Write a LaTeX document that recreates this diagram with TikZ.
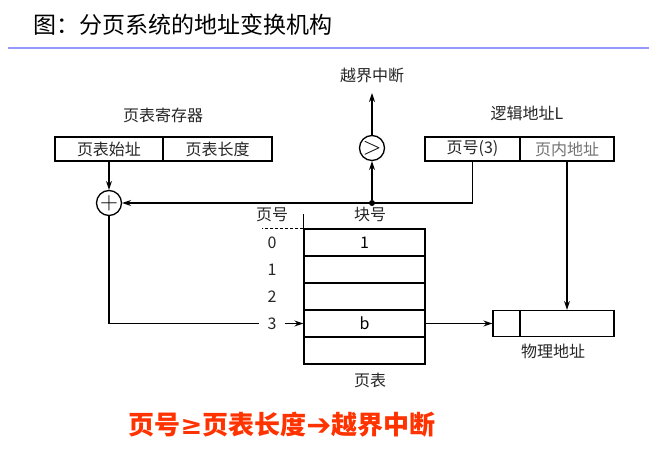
\documentclass[tikz,border=0pt]{standalone}
\usepackage{fontspec}
\setmainfont{Noto Sans CJK SC}
\newfontfamily\djv{DejaVu Sans}
\usetikzlibrary{arrows.meta}
\definecolor{rulecol}{RGB}{150,150,255}
\definecolor{redtxt}{RGB}{255,51,0}
\begin{document}
\begin{tikzpicture}[x=1pt,y=-1pt,
  ln/.style={line width=1.3pt, black},
  arr/.style={ln, -{Stealth[length=9pt,width=6pt]}},
  lbl/.style={font=\fontsize{16}{16}\selectfont, text=black!85, inner sep=0pt},
  cell/.style={draw, ln, inner sep=0pt, minimum height=24pt, font=\fontsize{16}{16}\selectfont, text=black!85},
  prow/.style={draw, ln, inner sep=0pt, minimum width=121pt, minimum height=27pt, font=\fontsize{16}{16}\selectfont},
  opcirc/.style={circle, draw, ln, inner sep=0pt, minimum size=25pt, font=\fontsize{24}{24}\selectfont},
  titlefont/.style={font=\fontsize{23}{23}\selectfont, inner sep=0pt},
  redfont/.style={font=\fontsize{26}{26}\selectfont\bfseries, text=redtxt, inner sep=0pt}
]
\useasboundingbox (0,0) rectangle (649,450);
\fill[white] (0,0) rectangle (649,450);

% title and rule
\node[titlefont] (title) at (183,25) {图：分页系统的地址变换机构};
\draw[rulecol, line width=2pt] (8,48) -- (649,48);

% page-table register
\node[lbl] (regl) at (163,115) {页表寄存器};
\node[cell, minimum width=108pt] (rs) at (109,149) {页表始址};
\node[cell, minimum width=109pt] (rl) at (217.5,149) {页表长度};

% logical address
\node[lbl] (logl) at (527,113) {逻辑地址L};
\node[cell, minimum width=95pt] (lp) at (472.5,149) {页号(3)};
\node[cell, minimum width=94pt, text=black!55] (lo) at (567,149) {页内地址};

% comparator
\node[lbl] (intr) at (372,75) {越界中断};
\coordinate (itop) at (372,93);
\node[opcirc] (cmp) at (372,148) {\raisebox{0.5pt}{$>$}};
\node[circle, fill=black, inner sep=0pt, minimum size=6pt] (dot) at (372,203) {};
\draw[arr] (cmp.north) -- (itop);
\draw[arr] (dot) -- (cmp.south);

% adder
\node[opcirc] (plus) at (109,203) {\raisebox{0.5pt}{$+$}};
\draw[arr] (rs.south) -- (plus.north);
\draw[arr] (lp.south) |- (plus.east);

% page table
\node[prow] (r0) at (364.5,242.5) {1};
\node[prow] (r1) at (364.5,269.5) {};
\node[prow] (r2) at (364.5,296.5) {};
\node[prow] (r3) at (364.5,323.5) {b};
\node[prow] (r4) at (364.5,350.5) {};
\draw[ln] (r0.north west) -- ++(0,-14);
\draw[ln, dashed, dash pattern=on 3pt off 2pt] (r0.north west) -- ++(-41,0);
\node[lbl] (hpg) at (272,215) {页号};
\node[lbl] (hbk) at (370,215) {块号};
\node[lbl] (n0) at (272,242.5) {0};
\node[lbl] (n1) at (272,269.5) {1};
\node[lbl] (n2) at (272,296.5) {2};
\node[lbl, inner xsep=8pt] (n3) at (272,323.5) {3};
\node[lbl] (ptl) at (370,380) {页表};

\draw[ln] (plus.south) |- (n3.west);
\draw[arr] (n3.east) -- (r3.west);

% physical address
\node[cell, minimum width=27pt, minimum height=26pt] (pa) at (506.5,323.5) {};
\node[cell, minimum width=94pt, minimum height=26pt] (pb) at (567,323.5) {};
\node[lbl] (phl) at (553,351) {物理地址};
\draw[arr] (r3.east) -- (pa.west);
\draw[arr] (lo.south) -- (pb.north);

% bottom note
\node[redfont] (note) at (282,425) {页号{\djv\bfseries ≥}页表长度{\djv\bfseries\fontsize{30}{30}\selectfont\raisebox{-1pt}{➔}}越界中断};
\end{tikzpicture}
\end{document}
